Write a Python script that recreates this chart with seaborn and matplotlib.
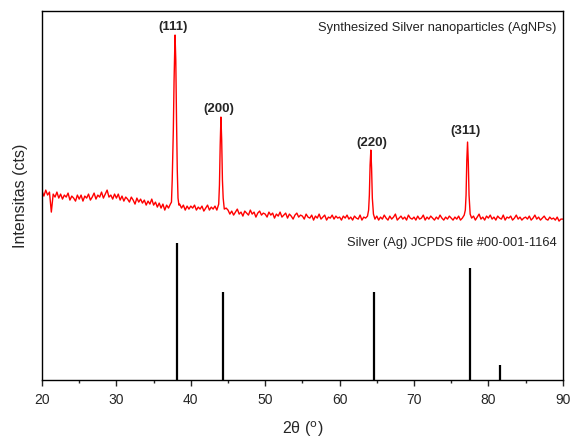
import numpy as np
import pandas as pd
import seaborn as sns
import matplotlib.pyplot as plt
from matplotlib.ticker import MultipleLocator

## Baseline of the measured pattern, read every 0.25 deg from 20 to 90
baseline = [
    189, 184, 190, 185, 188, 168, 186, 183, 188, 182, 186, 181, 185, 183, 187, 180, 184, 182, 179, 185,
    181, 185, 179, 184, 182, 186, 180, 183, 187, 181, 185, 183, 188, 182, 186, 190, 183, 185, 181, 186,
    182, 186, 180, 184, 179, 183, 181, 178, 183, 180, 176, 182, 178, 181, 177, 180, 175, 179, 176, 181,
    175, 178, 173, 177, 172, 176, 170, 175, 172, 176, 174, 174, 174, 174, 176, 172, 175, 170, 174, 171,
    174, 172, 175, 170, 173, 171, 174, 169, 172, 175, 170, 173, 171, 174, 170, 172, 173, 170, 169, 172,
    170, 166, 169, 165, 168, 171, 166, 168, 164, 169, 167, 165, 170, 166, 168, 163, 167, 169, 165, 167,
    166, 163, 168, 165, 167, 162, 166, 164, 168, 163, 165, 167, 162, 166, 164, 161, 165, 167, 163, 165,
    164, 161, 166, 163, 162, 165, 160, 164, 162, 166, 161, 163, 165, 160, 163, 162, 165, 161, 164, 162,
    163, 160, 164, 162, 165, 161, 163, 160, 164, 162, 161, 165, 160, 163, 162, 164, 164, 164, 164, 161,
    164, 160, 163, 161, 165, 162, 160, 164, 161, 163, 166, 160, 162, 164, 161, 163, 160, 165, 162, 161,
    163, 160, 164, 161, 162, 165, 160, 163, 161, 164, 162, 160, 163, 161, 165, 162, 160, 163, 161, 164,
    162, 160, 163, 161, 164, 160, 162, 165, 161, 161, 161, 162, 164, 160, 163, 166, 161, 163, 160, 164,
    162, 165, 161, 163, 160, 164, 162, 161, 165, 160, 163, 162, 164, 160, 162, 165, 161, 163, 160, 162,
    163, 161, 164, 160, 162, 165, 161, 163, 160, 162, 164, 161, 160, 163, 161, 162, 160, 163, 159, 161,
    161,
]
baseline_x = np.round(np.arange(20, 90.001, 0.25), 2)

## Peak profiles (2theta, intensity)
peak_111_x = [37.40, 37.50, 37.55, 37.65, 37.75, 37.88, 37.98, 38.08, 38.18, 38.28, 38.40]
peak_111_y = [178, 200, 218, 250, 300, 345, 320, 260, 210, 182, 175]
peak_200_x = [43.75, 43.85, 43.95, 44.05, 44.15, 44.25, 44.35, 44.50]
peak_200_y = [176, 195, 235, 263, 240, 200, 182, 171]
peak_220_x = [63.90, 64.00, 64.10, 64.20, 64.30, 64.40, 64.55]
peak_220_y = [170, 185, 215, 230, 212, 182, 166]
peak_311_x = [76.90, 77.00, 77.10, 77.20, 77.30, 77.40, 77.55]
peak_311_y = [170, 185, 220, 238, 218, 185, 166]

peak_labels = ["(111)", "(200)", "(220)", "(311)"]
label_x = [37.6, 43.8, 64.3, 76.9]
label_y = [347, 265, 231, 243]

## JCPDS reference sticks
ref_pos = [38.1, 44.3, 64.6, 77.5, 81.6]
ref_int = [137, 88, 88, 112, 15]

peaks = [(peak_111_x, peak_111_y), (peak_200_x, peak_200_y),
         (peak_220_x, peak_220_y), (peak_311_x, peak_311_y)]

keep = np.ones(len(baseline_x), dtype=bool)
for px, _ in peaks:
    keep &= ~((baseline_x > px[0] - 0.05) & (baseline_x < px[-1] + 0.05))

xs = list(baseline_x[keep])
ys = list(np.array(baseline)[keep])
for px, py in peaks:
    xs += px
    ys += py
df = pd.DataFrame({"theta": xs, "intensity": ys}).sort_values("theta")

sns.set_style("ticks")
plt.rcParams['font.family'] = ['Liberation Sans', 'DejaVu Sans']

fig = plt.figure(figsize=(5.71, 4.41), dpi=100)
ax = fig.add_axes([0.0736, 0.138, 0.912, 0.837])

sns.lineplot(data=df, x="theta", y="intensity", color="red", linewidth=1.0,
             ax=ax, sort=True, estimator=None)
ax.vlines(ref_pos, 0, ref_int, colors="black", linewidth=1.6)

for lab, lx, ly in zip(peak_labels, label_x, label_y):
    ax.text(lx, ly, lab, ha="center", va="bottom", fontsize=9.5, fontweight="bold")

ax.text(89.2, 352, "Synthesized Silver nanoparticles (AgNPs)", ha="right",
        va="center", fontsize=9.3, color="#222222")
ax.text(89.2, 137, "Silver (Ag) JCPDS file #00-001-1164", ha="right",
        va="center", fontsize=9.3, color="#222222")

ax.set_xlim(20, 90)
ax.set_ylim(0, 369)
ax.xaxis.set_major_locator(MultipleLocator(10))
ax.xaxis.set_minor_locator(MultipleLocator(5))
ax.tick_params(axis="x", which="major", direction="out", length=4, width=1,
               labelsize=10, pad=5)
ax.tick_params(axis="x", which="minor", direction="out", length=2.5, width=1)
ax.set_yticks([])

for s in ax.spines.values():
    s.set_visible(True)
    s.set_color("black")
    s.set_linewidth(1.0)

ax.set_xlabel("2θ ($^{\\mathrm{o}}$)", fontsize=11.5, labelpad=9)
ax.set_ylabel("Intensitas (cts)", fontsize=11.5, labelpad=10)

fig.savefig("out.png", dpi=100)
